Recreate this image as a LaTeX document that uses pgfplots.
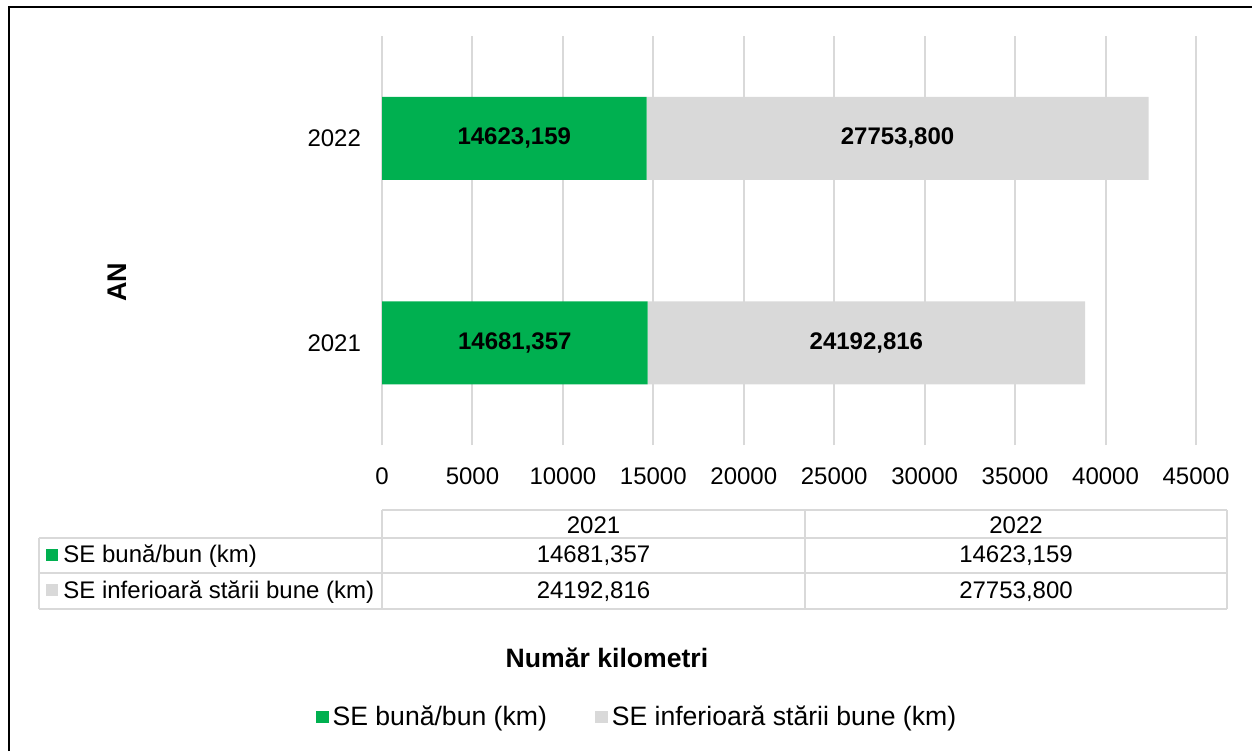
\documentclass[border=0pt]{standalone}
\usepackage{fontspec}
\setmainfont{Liberation Sans}
\usepackage{pgfplots}
\pgfplotsset{compat=1.18}
\definecolor{segreen}{HTML}{00B050}
\definecolor{segray}{HTML}{D9D9D9}
\definecolor{rule}{HTML}{D9D9D9}
\begin{document}
\begin{tikzpicture}[x=0.5pt,y=-0.5pt,font=\fontsize{12}{14}\selectfont]
\useasboundingbox (0,0) rectangle (1252,751);
\draw[line width=1.1pt] (9,751) -- (9,7) -- (1252,7);
\begin{axis}[
  at={(191pt,-222.5pt)}, anchor=south west,
  width=407pt, height=204.5pt, scale only axis,
  xbar stacked, bar width=41.5pt,
  xmin=0, xmax=45000, ymin=-0.5, ymax=1.5,
  xtick={0,5000,...,45000}, scaled x ticks=false,
  ytick={0,1}, yticklabels={2021,2022},
  /pgf/number format/1000 sep={},
  /pgf/number format/assume math mode=true,
  ticklabel style={font=\fontsize{12}{14}\selectfont},
  xticklabel style={yshift=-8pt},
  yticklabel style={xshift=-7pt},
  major tick length=0pt,
  axis line style={draw=none},
  xmajorgrids, major grid style={rule,line width=1pt},
  xlabel={\bfseries Număr kilometri},
  ylabel={\bfseries AN},
  x label style={at={(axis description cs:0.2764,-0.52)},anchor=center,font=\fontsize{13.3}{16}\selectfont},
  y label style={at={(axis description cs:-0.3256,0.3985)},anchor=center,font=\fontsize{13.5}{16}\selectfont},
  point meta=explicit symbolic,
  nodes near coords,
  every node near coord/.append style={anchor=center,
    font=\fontsize{12}{14}\selectfont\bfseries},
  legend columns=2,
  legend style={at={(0.3145,-0.665)}, anchor=center, draw=none,
    font=\fontsize{13.3}{16}\selectfont,
    /tikz/every even column/.append style={column sep=22pt}},
  legend image code/.code={\fill[#1] (0pt,-3.2pt) rectangle (6.4pt,3.2pt);},
]
\addplot[fill=segreen,draw=none] coordinates {(14681.357,0) [14681,357] (14623.159,1) [14623,159]};
\addplot[fill=segray,draw=none] coordinates {(24192.816,0) [24192,816] (27753.800,1) [27753,800]};
\legend{SE bună/bun (km),SE inferioară stării bune (km)}
\end{axis}
% data table
\begin{scope}[draw=rule,line width=0.8pt]
\draw (382,510) -- (1227,510);
\draw (39,538) -- (1227,538);
\draw (39,573) -- (1227,573);
\draw (39,609) -- (1227,609);
\draw (39,538) -- (39,609);
\draw (382,510) -- (382,609);
\draw (805,510) -- (805,609);
\draw (1227,510) -- (1227,609);
\end{scope}
\fill[segreen] (46,549) rectangle (58,561);
\fill[segray] (46,584) rectangle (58,596);
\node[anchor=base west,inner sep=0pt] at (63,562) {SE bună/bun (km)};
\node[anchor=base west,inner sep=0pt] at (63,598) {SE inferioară stării bune (km)};
\node[anchor=base,inner sep=0pt] at (593.5,533) {2021};
\node[anchor=base,inner sep=0pt] at (1016,533) {2022};
\node[anchor=base,inner sep=0pt] at (593.5,562) {14681,357};
\node[anchor=base,inner sep=0pt] at (1016,562) {14623,159};
\node[anchor=base,inner sep=0pt] at (593.5,598) {24192,816};
\node[anchor=base,inner sep=0pt] at (1016,598) {27753,800};
\end{tikzpicture}
\end{document}
